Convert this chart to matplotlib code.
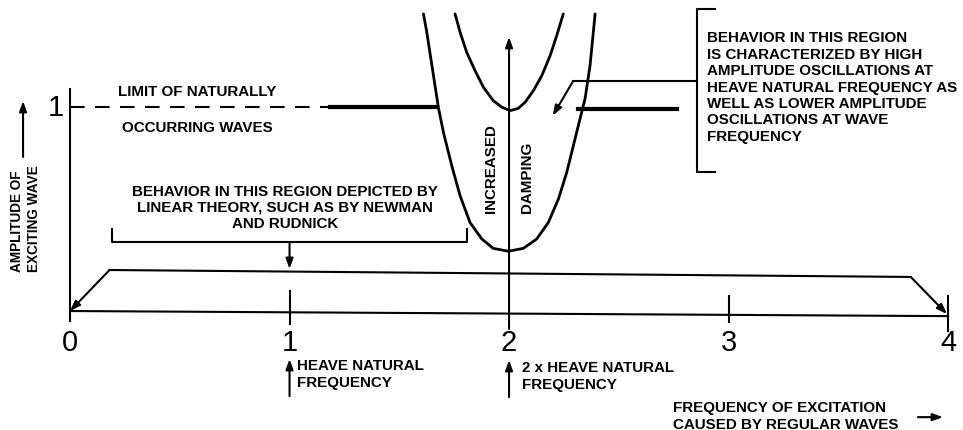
import matplotlib
matplotlib.use("Agg")
import matplotlib.pyplot as plt

# ---- data (x = excitation frequency, y = wave amplitude) ----
tick_x = [0, 1, 2, 3, 4]
tick_labels = ["0", "1", "2", "3", "4"]

# slightly sloped baseline and plateau of the "linear theory" region
base_x = [0.0, 4.0]
base_y = [0.0, -0.025]
plateau_x = [0.18, 3.83]
plateau_y = [0.201, 0.167]

# limit of naturally occurring waves
dash_x = [0.0, 1.185]
limit_left_x = [1.185, 1.672]
limit_right_x = [2.314, 2.765]
limit_y = [1.0, 0.99]

# outer instability boundary
outer_x = [1.610, 1.625, 1.678, 1.701, 1.739, 1.777, 1.822, 1.876, 1.928, 1.997,
           2.065, 2.126, 2.179, 2.225, 2.263, 2.293, 2.323, 2.346, 2.369, 2.392]
outer_y = [1.456, 1.368, 0.998, 0.876, 0.712, 0.565, 0.434, 0.353, 0.307, 0.293,
           0.307, 0.353, 0.434, 0.549, 0.680, 0.810, 0.941, 1.039, 1.203, 1.456]

# inner boundary
inner_x = [1.754, 1.777, 1.807, 1.845, 1.883, 1.928, 1.967, 2.005,
           2.042, 2.073, 2.111, 2.149, 2.187, 2.217, 2.247]
inner_y = [1.456, 1.366, 1.268, 1.178, 1.097, 1.031, 0.999, 0.982,
           0.993, 1.023, 1.080, 1.153, 1.251, 1.349, 1.456]

fig = plt.figure(figsize=(9.63, 4.31), dpi=100)
ax = fig.add_axes([0, 0, 1, 1])
ax.set_xlim(-0.319, 4.068)
ax.set_ylim(-0.583, 1.529)
ax.axis("off")

k = "black"
lw = 1.5
bold = dict(family="Liberation Sans", fontweight="bold", fontsize=10.9, color=k)
arrow = dict(arrowstyle="-|>,head_length=0.5,head_width=0.18", mutation_scale=12,
             lw=lw, color=k, shrinkA=0, shrinkB=0)

def arr(x0, y0, x1, y1):
    ax.annotate("", xy=(x1, y1), xytext=(x0, y0), arrowprops=arrow)

# axes
ax.plot(base_x, base_y, color=k, lw=lw)
ax.plot([0, 0], [-0.05, 1.088], color=k, lw=lw)
ticks_lo = [-0.05, -0.064, -0.088, -0.054, -0.098]
ticks_hi = [0.0, 0.098, 0.0, 0.074, 0.074]
for x, lo, hi, lab in zip(tick_x, ticks_lo, ticks_hi, tick_labels):
    if x != 0 and x != 2:
        ax.plot([x, x], [lo, hi], color=k, lw=lw)
    ax.text(x, -0.15, lab, ha="center", va="center", fontsize=21,
            family="Liberation Sans", color=k)
ax.text(-0.03, 1.0, "1", ha="right", va="center", fontsize=21,
        family="Liberation Sans", color=k)

# limit line
ax.plot(dash_x, [limit_y[0]] * 2, color=k, lw=lw, linestyle=(0, (7, 5)))
ax.plot(limit_left_x, [limit_y[0]] * 2, color=k, lw=3)
ax.plot(limit_right_x, [limit_y[1]] * 2, color=k, lw=3)
ax.text(0.579, 1.078, "LIMIT OF NATURALLY", ha="center", va="center", **bold)
ax.text(0.579, 0.902, "OCCURRING WAVES", ha="center", va="center", **bold)

# instability boundaries
ax.plot(outer_x, outer_y, color=k, lw=2, solid_capstyle="round")
ax.plot(inner_x, inner_y, color=k, lw=2, solid_capstyle="round")
arr(2.0, -0.088, 2.0, 1.343)
ax.text(1.918, 0.485, "INCREASED", rotation=90, ha="center", va="bottom", **bold)
ax.text(2.082, 0.485, "DAMPING", rotation=90, ha="center", va="bottom", **bold)

# linear theory region
ax.plot(plateau_x, plateau_y, color=k, lw=lw)
arr(plateau_x[0], plateau_y[0], base_x[0], base_y[0])
arr(plateau_x[1], plateau_y[1], 3.995, -0.015)
ax.plot([0.19, 0.19, 1.81, 1.81], [0.402, 0.338, 0.338, 0.402], color=k, lw=lw)
arr(1.0, 0.338, 1.0, 0.206)
ax.text(0.98, 0.51, "BEHAVIOR IN THIS REGION DEPICTED BY\nLINEAR THEORY, SUCH AS BY NEWMAN\nAND RUDNICK",
        ha="center", va="center", linespacing=1.22, **bold)

# right hand bracket
ax.plot([2.938, 2.856, 2.856, 2.938], [1.480, 1.480, 0.681, 0.681], color=k, lw=lw)
ax.plot([2.856, 2.292], [1.127, 1.127], color=k, lw=lw)
arr(2.292, 1.127, 2.199, 0.957)
ax.text(2.902, 1.100,
        "BEHAVIOR IN THIS REGION\nIS CHARACTERIZED BY HIGH\nAMPLITUDE OSCILLATIONS AT\n"
        "HEAVE NATURAL FREQUENCY AS\nWELL AS LOWER AMPLITUDE\nOSCILLATIONS AT WAVE\nFREQUENCY",
        ha="left", va="center", linespacing=1.22, **bold)

# y label
ylab = dict(bold, fontsize=9.8)
ax.text(-0.203, 0.196, "AMPLITUDE OF\nEXCITING WAVE", rotation=90, ha="center", va="bottom",
        multialignment="left", linespacing=1.2, **ylab)
arr(-0.214, 0.755, -0.214, 1.029)

# bottom notes
arr(1.0, -0.417, 1.0, -0.235)
ax.text(1.034, -0.306, "HEAVE NATURAL\nFREQUENCY", ha="left", va="center", linespacing=1.22, **bold)
arr(2.0, -0.422, 2.0, -0.240)
ax.text(2.059, -0.316, "2 x HEAVE NATURAL\nFREQUENCY", ha="left", va="center", linespacing=1.22, **bold)
ax.text(2.747, -0.512, "FREQUENCY OF EXCITATION\nCAUSED BY REGULAR WAVES", ha="left", va="center",
        linespacing=1.22, **bold)
arr(3.863, -0.52, 3.977, -0.52)

fig.savefig("out.png", dpi=100)
